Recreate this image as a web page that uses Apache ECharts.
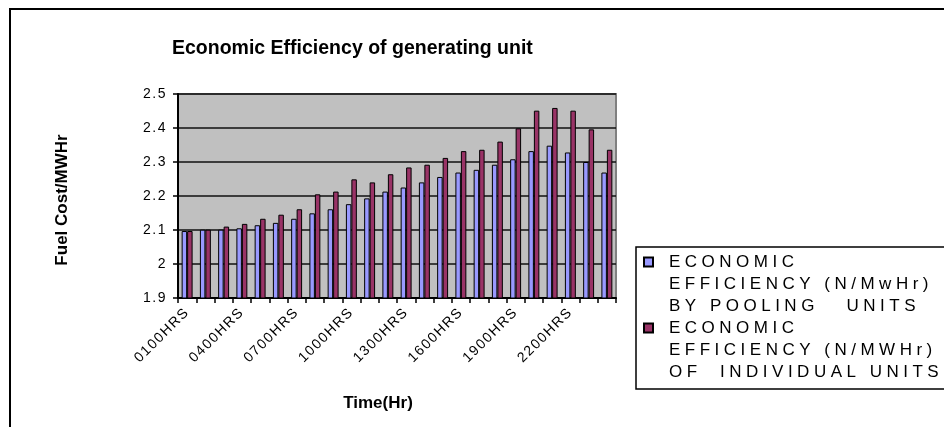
<!DOCTYPE html>
<html>
<head>
<meta charset="utf-8">
<title>Economic Efficiency of generating unit</title>
<script src="https://cdn.jsdelivr.net/npm/echarts@6/dist/echarts.min.js"></script>
<style>
  html, body { margin: 0; padding: 0; background: #ffffff; }
  #chart { width: 944px; height: 427px; }
</style>
</head>
<body>
<div id="chart"></div>
<script>
// Hourly time slots
const hours = ['0100HRS','0200HRS','0300HRS','0400HRS','0500HRS','0600HRS','0700HRS','0800HRS',
  '0900HRS','1000HRS','1100HRS','1200HRS','1300HRS','1400HRS','1500HRS','1600HRS',
  '1700HRS','1800HRS','1900HRS','2000HRS','2100HRS','2200HRS','2300HRS','2400HRS'];

// Fuel cost per MWHr when the units are pooled
const pooledCost = [2.097, 2.101, 2.101, 2.105, 2.114, 2.121, 2.133, 2.149, 2.161, 2.176, 2.193, 2.213,
  2.225, 2.240, 2.256, 2.269, 2.277, 2.292, 2.308, 2.332, 2.348, 2.328, 2.300, 2.269];

// Fuel cost per MWHr of the units run individually
const individualCost = [2.097, 2.101, 2.110, 2.118, 2.133, 2.145, 2.161, 2.205, 2.213, 2.249, 2.240, 2.264,
  2.284, 2.292, 2.312, 2.332, 2.336, 2.360, 2.399, 2.451, 2.459, 2.451, 2.396, 2.336];

// Value axis tick labels
const yTicks = ['1.9', '2', '2.1', '2.2', '2.3', '2.4', '2.5'];

const pooledName = 'ECONOMIC\nEFFICIENCY (N/MwHr)\nBY POOLING   UNITS';
const individualName = 'ECONOMIC\nEFFICIENCY (N/MWHr)\nOF  INDIVIDUAL UNITS';

const FONT = 'Liberation Sans, Arial, sans-serif';

// Wider tracking for the regular-weight legend and tick label text;
// every other text is drawn with normal spacing.
(function () {
  const proto = CanvasRenderingContext2D.prototype;
  if (!('letterSpacing' in proto)) return;
  const fill = proto.fillText;
  function trackingFor(font) {
    if (/bold|700/.test(font)) return '0px';
    if (/(^|\s)17px/.test(font)) return '4.5px';
    if (/(^|\s)14px/.test(font)) return '1.5px';
    return '0px';
  }
  proto.fillText = function () {
    const f = this.font;
    const spacing = trackingFor(f);
    if (this.letterSpacing !== spacing) {
      this.letterSpacing = spacing;
      this.font = f;
    }
    return fill.apply(this, arguments);
  };
})();

const chart = echarts.init(document.getElementById('chart'), null, { renderer: 'canvas' });

chart.setOption({
  animation: false,
  backgroundColor: '#ffffff',
  textStyle: { fontFamily: FONT, color: '#000' },
  title: {
    text: 'Economic Efficiency of generating unit',
    left: 167,
    top: 34,
    textStyle: { fontFamily: FONT, fontSize: 19.5, fontWeight: 'bold', color: '#000' }
  },
  graphic: [
    // outer chart frame
    { type: 'rect', silent: true, z: -10,
      shape: { x: 10, y: 9, width: 1000, height: 500 },
      style: { fill: 'none', stroke: '#000', lineWidth: 2 } },
    // legend frame
    { type: 'rect', silent: true, z: 5,
      shape: { x: 636, y: 247, width: 400, height: 142 },
      style: { fill: '#ffffff', stroke: '#000', lineWidth: 1.5 } }
  ],
  legend: {
    orient: 'vertical',
    left: 643,
    top: 207,
    padding: 0,
    itemGap: -44,
    itemWidth: 9,
    itemHeight: 9,
    icon: 'rect',
    z: 10,
    // two leading blank lines keep the swatch level with the first line of each entry
    formatter: name => '\n\n' + name,
    textStyle: { fontFamily: FONT, fontSize: 17, lineHeight: 22, color: '#000', padding: [0, 0, 0, 11] },
    data: [pooledName, individualName]
  },
  grid: {
    left: 178, right: 328, top: 94, bottom: 129,
    show: true,
    backgroundColor: '#c0c0c0',
    borderColor: '#808080',
    borderWidth: 2
  },
  xAxis: {
    type: 'category',
    data: hours,
    boundaryGap: true,
    name: 'Time(Hr)',
    nameLocation: 'middle',
    nameGap: 97,
    nameTextStyle: { fontFamily: FONT, fontSize: 17, fontWeight: 'bold', color: '#000', padding: [0, 38, 0, 0] },
    axisLine: { lineStyle: { color: '#000', width: 2 } },
    axisTick: { show: true, interval: 0, length: 5, lineStyle: { color: '#000', width: 1.5 } },
    axisLabel: { interval: 2, rotate: 45, fontFamily: FONT, fontSize: 14, color: '#000', margin: 12 },
    splitLine: { show: false }
  },
  yAxis: {
    type: 'value',
    min: 1.9,
    max: 2.5,
    interval: 0.1,
    name: 'Fuel Cost/MWHr',
    nameLocation: 'middle',
    nameRotate: 90,
    nameGap: 107,
    nameTextStyle: { fontFamily: FONT, fontSize: 17, fontWeight: 'bold', color: '#000', padding: [0, 8, 0, 0] },
    axisLine: { show: true, lineStyle: { color: '#000', width: 2 } },
    axisTick: { show: true, length: 5, lineStyle: { color: '#000', width: 1.5 } },
    axisLabel: {
      fontFamily: FONT, fontSize: 14, color: '#000', margin: 11,
      formatter: v => yTicks[Math.round((v - 1.9) * 10)]
    },
    splitLine: { show: true, lineStyle: { color: '#111', width: 1.5 } }
  },
  series: [
    {
      name: pooledName,
      type: 'bar',
      data: pooledCost,
      barWidth: '30%',
      barGap: '0%',
      itemStyle: { color: '#9999ff', borderColor: '#000', borderWidth: 1 }
    },
    {
      name: individualName,
      type: 'bar',
      data: individualCost,
      barWidth: '30%',
      barGap: '0%',
      itemStyle: { color: '#993366', borderColor: '#000', borderWidth: 1 }
    }
  ]
});
</script>
</body>
</html>
